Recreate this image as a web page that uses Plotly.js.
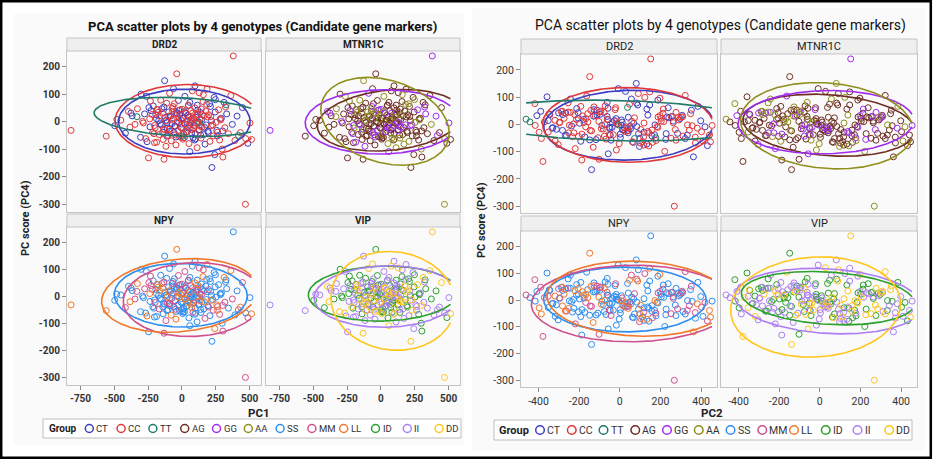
<!DOCTYPE html>
<html><head><meta charset="utf-8">
<script src="https://cdn.plot.ly/plotly-3.0.1.min.js"></script>
<style>html,body{margin:0;padding:0;background:#fff;}#chart{width:940px;height:461px;}</style>
</head><body><div id="chart"></div>
<script>
// ---------- DATA ----------
const pc1 = [380,470,-820,-560,-38,-128,222,-333,-377,-497,
-452,-418,-396,-368,-347,-329,-306,-291,-276,-268,
-263,-247,-238,-229,-216,-212,-198,-193,-187,-181,
-172,-168,-157,-152,-143,-139,-133,-127,-124,-118,
-113,-109,-102,-98,-93,-91,-84,-79,-73,-71,
-64,-58,-56,-49,-44,-41,-33,-29,-26,-18,
-14,-9,-4,2,6,11,14,22,24,31,
36,39,47,52,54,61,66,68,77,82,
84,91,96,99,107,112,113,121,126,128,
137,141,146,149,156,162,164,171,177,181,
186,193,198,207,211,216,219,232,238,252,
258,271,279,292,298,312,318,331,344,362,
373,392,408,433,448,472,488,503,515,-482,
303,-132,97,-233,243,58,-302,158,-62,327,
418,3,-203,248,-384,118,-22,188,43,283,
-236,-221,-207,-189,-176,-161,-148,-136,-121,-111,
-97,-88,-77,-66,-53,-47,-36,-24,-12,-6,
4,9,17,26,33,42,49,57,63,72,
79,88,94,103,109,117,124,133,139,152,
-244,-203,-166,-142,-116,-94,-69,-43,-21,-2,
12,28,45,59,74,86,101,115,131,144,
167,183,196,213,228,246,263,286,301,323,
-285,-258,-183,-108,-57,19,71,136,205,264];

const pc2 = [152,268,-252,-386,-148,81,-139,-461,-408,-333,
-297,-262,-347,-204,-168,-283,-117,-228,-63,-318,
-243,-187,-103,-266,-32,-212,-146,42,-303,-77,
-198,117,-254,-38,-183,62,-127,-352,8,-219,
-72,173,-108,-281,27,-163,-18,102,-237,-93,
204,-47,-192,53,-131,138,-12,-226,83,-68,
232,-157,19,-98,112,-27,-203,57,183,-121,
2,263,-58,143,-178,37,212,-88,91,-43,
291,23,-142,158,72,-17,238,-73,119,322,
-112,178,12,273,48,-172,203,97,348,-52,
147,228,302,-3,133,381,68,252,187,333,
41,277,161,398,221,88,342,258,311,197,
419,372,297,441,352,409,431,454,446,-442,
-102,-378,-8,-418,362,-57,-358,123,28,38,
177,72,118,-62,103,-248,-301,-213,-282,-18,
-312,188,-76,263,-221,51,-389,137,-14,322,
-167,92,-295,214,-48,371,-129,7,-243,158,
-352,276,-97,34,-186,241,-21,-329,119,-268,
198,-139,67,-58,356,-205,143,-371,3,288,
-112,39,-274,171,-36,402,-158,226,-319,84,
-233,307,-81,147,-397,59,-192,253,-6,-288,
13,-127,332,-62,187,-344,98,-176,284,-23,
-416,133,-254,42,309,-148,216,-91,384,-52];

const pc4 = [240,-300,-31,-52,175,150,-166,19,32,-14,
6,-41,38,22,-9,48,-56,2,29,-61,
93,-131,11,41,-38,58,-22,26,-74,44,
4,-46,79,-11,31,-64,54,-28,16,-89,
68,-2,-49,36,-26,104,21,-69,-6,49,
12,-39,66,-16,-84,34,1,-31,78,-54,
27,9,-21,46,-63,14,-44,93,-8,31,
-36,6,59,-79,18,-24,41,-4,113,-58,
16,-13,51,-42,24,-94,61,-1,-29,106,
34,-59,8,-19,74,-46,22,-81,39,-11,
119,-34,26,-71,56,-14,4,-51,89,-2,
-31,44,-66,13,-99,71,-21,29,-43,96,
-9,-68,21,-39,52,-61,-78,-4,-64,9,
-128,-136,131,76,-119,-108,101,99,121,62,
-49,-52,-76,81,-19,-3,42,18,-22,11,
-18,27,-43,12,35,-7,48,-26,3,-52,
21,-34,8,56,-15,-47,30,-3,44,-21,
14,-58,37,-9,-36,24,61,-12,5,-41,
32,-24,-66,17,-5,43,-31,9,-48,26,
52,-13,22,-38,6,-27,39,-55,15,-8,
-45,33,-17,71,-29,11,-62,28,-2,47,
-20,64,-39,19,-11,36,-51,7,-33,54,
-4,-72,45,-23,28,-57,10,-16,66,-37];

const genoDRD2 = ["CC","CC","CC","CC","CC","CT","CT","TT","CT","CT",
"CC","CT","CC","CT","CC","CC","CT","CC","CT","CC",
"CT","CC","CC","CT","CC","CT","CC","CT","CC","CC",
"CT","CC","CC","CT","CC","CC","CT","CC","CT","CC",
"CC","CT","CC","CT","CC","CC","CT","CC","CT","CC",
"CC","CT","CC","CT","CC","CT","CC","CC","CT","CC",
"CT","CC","CT","CC","CC","CT","CC","CT","CC","CC",
"CT","CC","CT","CC","CT","CC","CC","CT","CC","CT",
"CC","CT","CC","CT","CC","CC","CT","CC","CT","CC",
"CT","CC","CT","CC","CC","CT","CC","CT","CC","CT",
"CC","CT","CC","CC","CT","CC","CT","CC","CT","CC",
"CT","CC","CC","CT","CC","CT","CC","CT","CC","CC",
"CT","CC","CT","CC","CT","CC","CT","CC","CC","TT",
"CC","CC","CT","CC","CT","CT","CT","CC","CT","TT",
"TT","TT","CC","CT","CC","CC","CT","CC","CT","CC",
"CT","CC","CC","CT","CC","CT","CT","CC","CC","CT",
"CC","CT","CC","CC","CT","CC","CT","CT","CC","CC",
"CT","CC","CT","CC","CC","CT","CC","CT","CC","CT",
"CC","CC","CT","CT","CC","CT","CC","CC","CT","CC",
"CT","CC","CC","CT","CT","CC","CC","CT","CC","CT",
"CC","CT","CC","CT","CC","CC","CT","CC","TT","CC",
"CT","CC","CT","CC","CC","CT","CT","CC","CT","CC",
"CC","CT","CC","CT","CC","CT","CC","CC","CT","CC"];

const genoMTNR1C = ["GG","AA","GG","AG","AG","AA","AG","AA","GG","AG",
"AG","AG","GG","AG","AG","AA","AG","GG","AG","AG",
"AA","AG","AG","GG","AG","AG","AA","AG","GG","AG",
"AG","AG","AA","GG","AG","AG","AG","AA","AG","GG",
"AG","AG","AG","AA","AG","GG","AG","AG","AG","AA",
"AG","GG","AG","AG","AG","AA","AG","GG","AG","AG",
"AG","AA","AG","GG","AG","AG","AG","AA","AG","GG",
"AG","AG","AG","AA","AG","GG","AG","AG","AG","AA",
"AG","GG","AG","AG","AG","AA","AG","GG","AG","AG",
"AG","AA","AG","GG","AG","AG","AG","AA","AG","GG",
"AG","AG","AG","AA","AG","GG","AG","AG","AG","AA",
"AG","GG","AG","AG","AA","AG","AG","GG","AG","AG",
"AA","AG","GG","AG","AG","AA","AG","GG","AG","AG",
"AG","AG","AG","AA","AG","GG","AG","AA","AG","AG",
"GG","AG","AG","AA","AG","AG","GG","AG","AG","AG",
"AG","AG","GG","AG","AA","AG","AG","GG","AG","AG",
"AA","AG","AG","GG","AG","AG","AA","AG","GG","AG",
"AG","AG","AA","AG","GG","AG","AG","AG","AA","AG",
"GG","AG","AG","AA","AG","AG","GG","AG","AG","AA",
"AG","GG","AG","AG","AA","AG","AG","GG","AG","AG",
"AA","AG","GG","AG","AG","AG","AA","AG","GG","AG",
"AG","AA","AG","AG","GG","AG","AG","AA","AG","GG",
"AG","AG","AA","AG","GG","AG","AG","AG","AA","AG"];

const genoNPY = ["SS","MM","LL","LL","LL","SS","SS","MM","SS","SS",
"SS","MM","SS","SS","MM","LL","SS","SS","MM","SS",
"SS","SS","LL","MM","SS","SS","MM","SS","SS","LL",
"SS","MM","SS","SS","LL","SS","MM","SS","SS","MM",
"SS","LL","SS","SS","MM","SS","SS","LL","SS","MM",
"SS","SS","SS","MM","LL","SS","SS","SS","MM","SS",
"SS","LL","SS","MM","SS","SS","SS","MM","LL","SS",
"SS","MM","SS","SS","LL","SS","MM","SS","SS","MM",
"SS","SS","LL","SS","MM","SS","SS","LL","SS","MM",
"SS","SS","MM","SS","LL","SS","SS","MM","SS","SS",
"LL","SS","MM","SS","SS","LL","SS","MM","SS","SS",
"LL","SS","MM","SS","SS","LL","MM","SS","SS","LL",
"MM","SS","SS","LL","MM","SS","MM","SS","LL","SS",
"MM","MM","SS","MM","LL","SS","SS","MM","SS","SS",
"MM","SS","SS","SS","LL","SS","MM","SS","LL","SS",
"SS","MM","SS","SS","LL","SS","MM","SS","SS","SS",
"LL","SS","MM","SS","SS","MM","SS","LL","SS","SS",
"MM","SS","SS","LL","SS","SS","MM","SS","SS","LL",
"SS","MM","SS","SS","SS","LL","SS","MM","SS","SS",
"MM","SS","LL","SS","SS","MM","SS","SS","LL","SS",
"SS","MM","SS","SS","LL","SS","SS","MM","SS","SS",
"LL","SS","MM","SS","SS","SS","LL","SS","MM","SS",
"SS","LL","SS","MM","SS","SS","SS","LL","SS","MM"];

const genoVIP = ["DD","DD","II","II","ID","II","DD","II","II","ID",
"II","ID","DD","II","ID","II","DD","ID","II","DD",
"II","II","ID","II","DD","ID","II","ID","II","DD",
"ID","II","ID","DD","II","ID","II","DD","ID","II",
"ID","DD","II","ID","II","DD","ID","II","ID","II",
"DD","ID","II","ID","II","DD","ID","II","ID","DD",
"II","ID","II","ID","DD","II","ID","II","ID","DD",
"II","ID","II","ID","DD","II","ID","II","DD","ID",
"II","ID","II","DD","ID","II","ID","II","ID","DD",
"II","ID","II","DD","ID","II","ID","II","DD","ID",
"II","ID","DD","II","ID","II","ID","DD","II","ID",
"II","DD","ID","II","ID","DD","II","ID","II","DD",
"ID","II","ID","II","DD","II","ID","II","DD","II",
"ID","DD","II","ID","II","DD","ID","II","DD","ID",
"II","ID","II","ID","DD","II","ID","DD","II","ID",
"II","ID","ID","II","DD","ID","II","II","ID","DD",
"ID","II","II","ID","DD","II","ID","ID","II","DD",
"II","ID","II","DD","ID","II","ID","II","DD","ID",
"II","ID","DD","II","ID","II","ID","DD","II","ID",
"ID","II","DD","ID","II","ID","II","DD","ID","II",
"II","DD","ID","II","ID","DD","II","ID","II","ID",
"DD","II","ID","II","DD","ID","II","ID","DD","II",
"ID","II","ID","DD","II","ID","II","DD","ID","II"];

const genes = ["DRD2","MTNR1C","NPY","VIP"];
const groupsDRD2 = ["CT","CC","TT"];
const groupsMTNR1C = ["AG","GG","AA"];
const groupsNPY = ["SS","MM","LL"];
const groupsVIP = ["ID","II","DD"];
const legendGroups = ["CT","CC","TT","AG","GG","AA","SS","MM","LL","ID","II","DD"];

const pc1Ticks = [-750,-500,-250,0,250,500];
const pc2Ticks = [-400,-200,0,200,400];
const pc4Ticks = [-300,-200,-100,0,100,200];

// Ellipse outlines: [centre x, x half-width, centre y, y shear, y half-height]
const ellPC1_DRD2   = {CT:[18,487,1,0,118],  CC:[40,535,3,0,133],   TT:[0,650,18,-15,70]};
const ellPC1_MTNR1C = {AG:[65,535,6,22,110], GG:[10,570,0,4,117],   AA:[30,475,2,-43,154]};
const ellPC1_NPY    = {SS:[-8,492,5,-3,118], MM:[83,517,-11,7,137], LL:[-17,577,4,22,135]};
const ellPC1_VIP    = {ID:[17,554,11,5,102], II:[40,534,0,5,114],   DD:[90,460,-16,-12,183]};
const ellPC2_DRD2   = {CT:[43,417,-3,7,128], CC:[40,420,-2,-3,137], TT:[-20,700,14,-11.5,74]};
const ellPC2_MTNR1C = {AG:[45,423,-3,-20,112], GG:[30,432,8,6,116], AA:[35,425,-5,-20,157]};
const ellPC2_NPY    = {SS:[25,400,2,-2,121], MM:[62,497,-13,3,143], LL:[90,448,5,-10,140]};
const ellPC2_VIP    = {ID:[40,426,7,-19,98], II:[40,459,-4,-19,121], DD:[-21,418,-26,12,187]};

// ---------- STYLE ----------
const colors = {CT:"#3d3dc4",CC:"#e0383a",TT:"#1f7a6a",AG:"#6e2e22",GG:"#a02cf0",AA:"#8f8f1c",
  SS:"#2e8ef0",MM:"#d0508e",LL:"#f07828",ID:"#2ca02c",II:"#ad7ef5",DD:"#ffc61e"};
const W = 940, H = 461;
const fx = p => p / W, fy = p => 1 - p / H;
const FONT = "Roboto, 'Liberation Sans', sans-serif";

const genoByGene = {DRD2:genoDRD2, MTNR1C:genoMTNR1C, NPY:genoNPY, VIP:genoVIP};
const groupsByGene = {DRD2:groupsDRD2, MTNR1C:groupsMTNR1C, NPY:groupsNPY, VIP:groupsVIP};

const panels = [
  {xdata:pc1, xticks:pc1Ticks, xtitle:"PC1",
   ells:{DRD2:ellPC1_DRD2, MTNR1C:ellPC1_MTNR1C, NPY:ellPC1_NPY, VIP:ellPC1_VIP},
   cols:[[67,261],[266,460]], rows:[[51,212],[227,385]], heads:[[38,51],[214,227]],
   xrange:[-850,585], yrange:[-328,258],
   title:{x:262,y:26,size:13,bold:true}, ytitle:{x:25,y:218}, xtitle_pos:{x:259,y:413},
   bg:[14,14,464,445], tickBold:true, headBold:true,
   leg:{box:[43,419,461,438], groupX:47, groupSize:10, y:428.5, x0:89.3, step:31.8, size:9.5, r:4}},
  {xdata:pc2, xticks:pc2Ticks, xtitle:"PC2",
   ells:{DRD2:ellPC2_DRD2, MTNR1C:ellPC2_MTNR1C, NPY:ellPC2_NPY, VIP:ellPC2_VIP},
   cols:[[521,717],[721,917]], rows:[[54,213],[231,387]], heads:[[39,54],[216,231]],
   xrange:[-486,478], yrange:[-325,258],
   title:{x:720,y:25,size:14,bold:false}, ytitle:{x:482,y:220}, xtitle_pos:{x:712,y:413},
   bg:[472,8,925,450], tickBold:false, headBold:false,
   leg:{box:[494,420,912,440], groupX:497, groupSize:11, y:430, x0:540, step:31.75, size:10.5, r:4.3}}
];

const data = [];
const layout = {
  width:W, height:H, margin:{l:0,r:0,t:0,b:0},
  paper_bgcolor:"#ffffff", plot_bgcolor:"#ffffff",
  showlegend:false, font:{family:FONT, color:"#222"},
  shapes:[], annotations:[]
};

function ellipseLine(p, xmin, xmax){
  const [cx,a,cy,c,b] = p; const xs=[], ys=[];
  for (let i=0;i<=720;i++){
    const t = 2*Math.PI*i/720;
    const x = cx + a*Math.cos(t), y = cy + c*Math.cos(t) + b*Math.sin(t);
    if (x < xmin || x > xmax){ xs.push(null); ys.push(null); } else { xs.push(x); ys.push(y); }
  }
  return {xs, ys};
}

panels.forEach((P, pi) => {
  const xmin = Math.min(...P.xdata), xmax = Math.max(...P.xdata);
  layout.shapes.push({type:"rect", xref:"paper", yref:"paper", layer:"below",
    x0:fx(P.bg[0]), x1:fx(P.bg[2]), y0:fy(P.bg[3]), y1:fy(P.bg[1]),
    fillcolor:"#fafafa", line:{width:0}});
  genes.forEach((gene, gi) => {
    const n = pi*4 + gi + 1;
    const xa = n===1 ? "x" : "x"+n, ya = n===1 ? "y" : "y"+n;
    const row = Math.floor(gi/2), col = gi%2;
    const c = P.cols[col], r = P.rows[row], h = P.heads[row];
    const geno = genoByGene[gene];
    groupsByGene[gene].forEach(g => {
      const xs=[], ys=[];
      geno.forEach((v,i) => { if (v===g){ xs.push(P.xdata[i]); ys.push(pc4[i]); } });
      data.push({type:"scatter", mode:"markers", x:xs, y:ys, xaxis:xa, yaxis:ya, name:g,
        marker:{symbol:"circle-open", size:6, color:colors[g], line:{width:1, color:colors[g]}},
        hoverinfo:"skip"});
    });
    groupsByGene[gene].forEach(g => {
      const e = ellipseLine(P.ells[gene][g], xmin, xmax);
      data.push({type:"scatter", mode:"lines", x:e.xs, y:e.ys, xaxis:xa, yaxis:ya, name:g,
        line:{color:colors[g], width:1.6}, connectgaps:false, hoverinfo:"skip"});
    });
    const bottom = row===1, left = col===0;
    const tickfont = {family:FONT, size:P.tickBold?10:10.5, color:"#333", weight: P.tickBold ? 700 : 400};
    layout["xaxis"+(n===1?"":n)] = {domain:[fx(c[0]), fx(c[1])], range:P.xrange, anchor:ya,
      showline:true, mirror:true, linecolor:"#c4c4c4", linewidth:1, showgrid:false, zeroline:false,
      ticks: bottom?"outside":"", ticklen:4, tickcolor:"#8a8a8a",
      tickmode:"array", tickvals:P.xticks, ticktext:P.xticks.map(String),
      showticklabels:bottom, tickfont:tickfont, fixedrange:true};
    layout["yaxis"+(n===1?"":n)] = {domain:[fy(r[1]), fy(r[0])], range:P.yrange, anchor:xa,
      showline:true, mirror:true, linecolor:"#c4c4c4", linewidth:1, showgrid:false, zeroline:false,
      ticks: left?"outside":"", ticklen:4, tickcolor:"#8a8a8a",
      tickmode:"array", tickvals:pc4Ticks, ticktext:pc4Ticks.map(String),
      showticklabels:left, tickfont:tickfont, fixedrange:true};
    layout.shapes.push({type:"rect", xref:"paper", yref:"paper",
      x0:fx(c[0]), x1:fx(c[1]), y0:fy(h[1]), y1:fy(h[0]),
      fillcolor:"#efefef", line:{color:"#c4c4c4", width:1}});
    layout.annotations.push({xref:"paper", yref:"paper", x:fx((c[0]+c[1])/2), y:fy((h[0]+h[1])/2),
      xanchor:"center", yanchor:"middle", showarrow:false,
      text: P.headBold ? "<b>"+gene+"</b>" : gene,
      font:{family:FONT, size:P.headBold?10:11, color:"#222"}});
  });
  layout.annotations.push({xref:"paper", yref:"paper", x:fx(P.title.x), y:fy(P.title.y),
    xanchor:"center", yanchor:"middle", showarrow:false,
    text: P.title.bold ? "<b>PCA scatter plots by 4 genotypes (Candidate gene markers)</b>" : "PCA scatter plots by 4 genotypes (Candidate gene markers)",
    font:{family:FONT, size:P.title.size, color:"#111"}});
  layout.annotations.push({xref:"paper", yref:"paper", x:fx(P.ytitle.x), y:fy(P.ytitle.y),
    xanchor:"center", yanchor:"middle", showarrow:false, textangle:-90,
    text:"<b>PC score (PC4)</b>", font:{family:FONT, size:11, color:"#222"}});
  layout.annotations.push({xref:"paper", yref:"paper", x:fx(P.xtitle_pos.x), y:fy(P.xtitle_pos.y),
    xanchor:"center", yanchor:"middle", showarrow:false,
    text:"<b>"+P.xtitle+"</b>", font:{family:FONT, size:11.5, color:"#222"}});
  const L = P.leg;
  layout.shapes.push({type:"rect", xref:"paper", yref:"paper",
    x0:fx(L.box[0]), x1:fx(L.box[2]), y0:fy(L.box[3]), y1:fy(L.box[1]),
    fillcolor:"#ffffff", line:{color:"#bdbdbd", width:1}});
  layout.annotations.push({xref:"paper", yref:"paper", x:fx(L.groupX), y:fy(L.y),
    xanchor:"left", yanchor:"middle", showarrow:false, text:"<b>Group</b>",
    font:{family:FONT, size:L.groupSize, color:"#222"}});
  legendGroups.forEach((g, k) => {
    const cx = L.x0 + k*L.step;
    layout.shapes.push({type:"circle", xref:"paper", yref:"paper",
      x0:fx(cx-L.r), x1:fx(cx+L.r), y0:fy(L.y+L.r), y1:fy(L.y-L.r),
      line:{color:colors[g], width:1.5}, fillcolor:"rgba(0,0,0,0)"});
    layout.annotations.push({xref:"paper", yref:"paper", x:fx(cx+5), y:fy(L.y),
      xanchor:"left", yanchor:"middle", showarrow:false, text:g,
      font:{family:FONT, size:L.size, color:"#333"}});
  });
});

layout.shapes.push({type:"rect", xref:"paper", yref:"paper",
  x0:fx(1.2), x1:fx(930.8), y0:fy(457.8), y1:fy(1.2),
  line:{color:"#000000", width:2.5}, fillcolor:"rgba(0,0,0,0)"});

Plotly.newPlot("chart", data, layout, {displayModeBar:false, staticPlot:true});
</script></body></html>
